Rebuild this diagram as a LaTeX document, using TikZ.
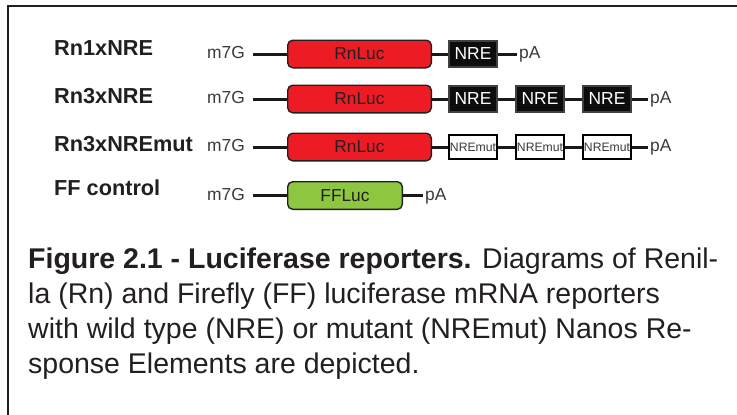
\documentclass[tikz,border=0pt]{standalone}
\usepackage{fontspec}
\setmainfont{Liberation Sans}
\usetikzlibrary{positioning}
\definecolor{rnred}{HTML}{ED1C24}
\definecolor{ffgreen}{HTML}{8DC63F}
\definecolor{ink}{HTML}{231F20}
\definecolor{capgray}{HTML}{3A3A3A}

\begin{document}
\begin{tikzpicture}[x=1pt, y=-1pt,
	rowlabel/.style={anchor=base west, inner sep=0pt, font=\fontsize{21.7}{26}\selectfont\bfseries, text=ink},
	endtext/.style={font=\fontsize{17.4}{20}\selectfont, text=capgray, text height=12.5pt, text depth=3.5pt},
	lucbox/.style={draw=ink, line width=1.4pt, rounded corners=5pt, minimum height=27.6pt, inner sep=0pt, font=\fontsize{17.3}{20}\selectfont, text=ink},
	nrebox/.style={draw=black!75, fill=black!95, line width=2pt, minimum width=48pt, minimum height=26pt, inner sep=0pt, font=\fontsize{17.4}{20}\selectfont, text=white},
	mutbox/.style={draw=black, fill=white, line width=2pt, minimum width=48pt, minimum height=24pt, inner sep=0pt, font=\fontsize{12.2}{14}\selectfont, text=capgray},
	rna/.style={line width=3pt, draw=black!90}]

	\useasboundingbox (0,0) rectangle (737,415);

	% frame
	\draw[ink, line width=2pt] (8.3,415) -- (8.3,5.5) -- (737,5.5);

	% construct names
	\foreach \yb/\txt [count=\i] in {56/Rn1xNRE, 103/Rn3xNRE, 151/Rn3xNREmut, 195/FF control}
		\node[rowlabel] (lab\i) at (54,\yb) {\txt};

	% 5' caps
	\foreach \yc [count=\i] in {54,99,147,195.5}
		\node[endtext, anchor=east, inner xsep=8pt] (cap\i) at (253,\yc) {m7G};

	% luciferase ORFs
	\foreach \yc [count=\i] in {54,99,147}
		\node[lucbox, fill=rnred, minimum width=143.6pt] (luc\i) at (359.5,\yc) {RnLuc};
	\node[lucbox, fill=ffgreen, minimum width=114.6pt] (luc4) at (345,195.5) {FFLuc};

	% NRE / NREmut elements
	\node[nrebox] (nre1a) at (473,54) {NRE};
	\foreach \k/\xc in {a/473, b/540, c/607} {
		\node[nrebox] (nre2\k) at (\xc,99) {NRE};
		\node[mutbox] (nre3\k) at (\xc,147) {NREmut};
	}

	% poly(A) tails
	\foreach \xp/\yc [count=\i] in {517/54, 648/99, 648/147, 423/195.5}
		\node[endtext, anchor=west, inner xsep=2pt] (pa\i) at (\xp,\yc) {pA};

	% mRNA backbone
	\foreach \a/\b in {cap1/luc1, luc1/nre1a, nre1a/pa1,
		cap2/luc2, luc2/nre2a, nre2a/nre2b, nre2b/nre2c, nre2c/pa2,
		cap3/luc3, luc3/nre3a, nre3a/nre3b, nre3b/nre3c, nre3c/pa3,
		cap4/luc4, luc4/pa4}
		\draw[rna] (\a) -- (\b);

	% legend
	\node[anchor=north west, inner sep=0pt, align=left, font=\fontsize{28.5}{34.8}\selectfont, text=ink] (legend) at (28,247.9)
		{\textbf{Figure 2.1 - Luciferase reporters.} Diagrams of Renil-\\
		la (Rn) and Firefly (FF) luciferase mRNA reporters\\
		with wild type (NRE) or mutant (NREmut) Nanos Re-\\
		sponse Elements are depicted.};

\end{tikzpicture}
\end{document}
